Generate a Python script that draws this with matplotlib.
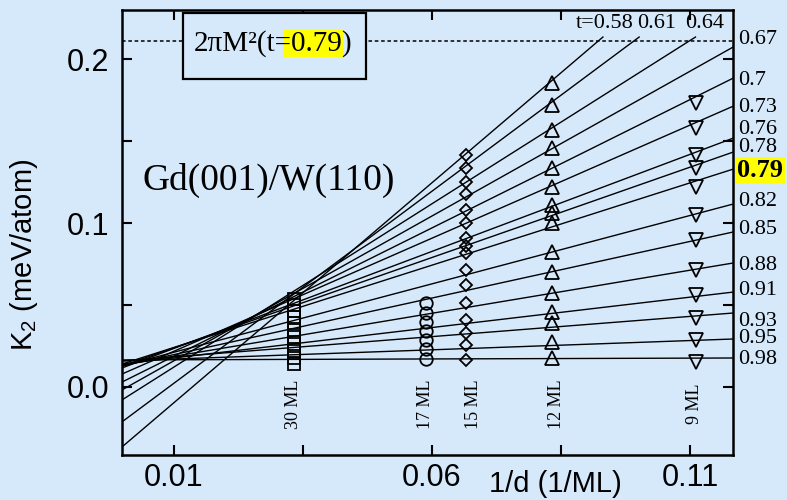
import numpy as np
import matplotlib.pyplot as plt
from matplotlib.patches import Rectangle
from matplotlib.ticker import FixedLocator, MultipleLocator, FormatStrFormatter
from matplotlib.transforms import blended_transform_factory
from matplotlib.font_manager import FontProperties

plt.rcParams['font.family'] = ['Liberation Sans', 'DejaVu Sans']

# reduced temperature t = T/Tc for each fitted line
t_values = [0.58, 0.61, 0.64, 0.67, 0.70, 0.73, 0.76, 0.78, 0.79,
            0.82, 0.85, 0.88, 0.91, 0.93, 0.95, 0.98]
# K2 = intercept + slope * (1/d)
k2_intercept = [-0.0366, -0.0213, -0.0079, -0.0018, 0.0030, 0.0079, 0.0116, 0.0128,
                0.0140, 0.0128, 0.0128, 0.0134, 0.0140, 0.0159, 0.0159, 0.0165]
k2_slope = [2.686, 2.345, 1.994, 1.768, 1.567, 1.381, 1.185, 1.103,
            1.005, 0.835, 0.691, 0.526, 0.371, 0.247, 0.113, 0.010]

# film thicknesses and measured K2 points
thickness_ml = [30, 17, 15, 12, 9]
k2_30ml = [0.0537, 0.0500, 0.0463, 0.0427, 0.0390, 0.0348, 0.0305,
           0.0262, 0.0220, 0.0177, 0.0140]
k2_17ml = [0.0512, 0.0451, 0.0396, 0.0341, 0.0287, 0.0232, 0.0171]
k2_15ml = [0.1415, 0.1335, 0.1250, 0.1177, 0.1079, 0.1000, 0.0909, 0.0860,
           0.0817, 0.0713, 0.0622, 0.0512, 0.0409, 0.0329, 0.0256, 0.0165]
k2_12ml = [0.1854, 0.1720, 0.1567, 0.1457, 0.1335, 0.1220, 0.1110, 0.1061,
           0.1000, 0.0823, 0.0701, 0.0573, 0.0457, 0.0390, 0.0274, 0.0177]
k2_9ml = [0.1732, 0.1579, 0.1415, 0.1335, 0.1220, 0.1049, 0.0896,
          0.0713, 0.0561, 0.0421, 0.0287, 0.0152]

# shape anisotropy 2*pi*M^2 at t = 0.79
shape_k2 = 0.211

top_labels = ['t=0.58', '0.61', '0.64']
right_labels = ['0.67', '0.7', '0.73', '0.76', '0.78', '0.79', '0.82',
                '0.85', '0.88', '0.91', '0.93', '0.95', '0.98']
column_labels = ['30 ML', '17 ML', '15 ML', '12 ML', '9 ML']

# label placement
top_label_x = [0.0935, 0.1036, 0.1129]
top_label_y = 0.222
right_label_y = [0.2122, 0.1872, 0.1707, 0.1573, 0.1463, 0.1323, 0.1134,
                 0.0963, 0.0744, 0.0591, 0.0402, 0.0293, 0.0165]
column_label_x = [0.0333, 0.0587, 0.0681, 0.0842, 0.1108]
column_label_y = -0.0105

bg = '#d6e9fb'
x_max = 0.1183
line_cap = 0.2135

fig = plt.figure(figsize=(7.87, 5.0), dpi=100, facecolor=bg)
ax = fig.add_axes([0.155, 0.09, 0.7764, 0.89])
ax.set_facecolor(bg)
ax.set_xlim(0, x_max)
ax.set_ylim(-0.0415, 0.230)

# fitted lines
for a, b in zip(k2_intercept, k2_slope):
    x_end = x_max
    if a + b * x_max > line_cap:
        x_end = (line_cap - a) / b
    xs = np.array([0.0, x_end])
    ax.plot(xs, a + b * xs, color='black', lw=1.0, zorder=2)

# data points for each thickness
series = [(k2_30ml, 's', 8), (k2_17ml, 'o', 9), (k2_15ml, 'D', 6.5),
          (k2_12ml, '^', 10), (k2_9ml, 'v', 10)]
for d, (vals, marker, ms) in zip(thickness_ml, series):
    ax.plot(np.full(len(vals), 1.0 / d), vals, linestyle='none', marker=marker,
            ms=ms, mfc='none', mec='black', mew=1.3, zorder=4)

# dotted shape-anisotropy level with its framed label
ax.axhline(shape_k2, color='#222222', lw=1.3, ls=(0, (2, 1.5)), zorder=1)
ax.add_patch(Rectangle((0.0998, 0.845), 0.2995, 0.1483, transform=ax.transAxes,
                       facecolor=bg, edgecolor='black', lw=1.6, zorder=5))
box_font = FontProperties(family='Liberation Serif', size=21)
box_txt = ax.text(0.247, 0.9236, '2πM²(t=0.79)', fontproperties=box_font,
                  transform=ax.transAxes, ha='center', va='center', zorder=7)

ax.text(0.034, 0.618, 'Gd(001)/W(110)', transform=ax.transAxes,
        family='Liberation Serif', fontsize=27, ha='left', va='center')

serif = dict(family='Liberation Serif', fontsize=16)
for x, s in zip(top_label_x, top_labels):
    ax.text(x, top_label_y, s, ha='center', va='center', **serif)

right_tr = blended_transform_factory(ax.transAxes, ax.transData)
for y, s in zip(right_label_y, right_labels):
    if s == '0.79':
        ax.text(1.006, y, s, transform=right_tr, ha='left', va='center',
                family='Liberation Serif', fontsize=19, fontweight='bold',
                bbox=dict(facecolor='#ffff00', edgecolor='none', pad=1.5),
                clip_on=False)
    else:
        ax.text(1.008, y, s, transform=right_tr, ha='left', va='center',
                clip_on=False, **serif)

for x, s in zip(column_label_x, column_labels):
    ax.text(x, column_label_y, s, rotation=90, ha='center', va='center',
            family='Liberation Serif', fontsize=13)

# axes styling
ax.xaxis.set_major_locator(FixedLocator([0.01, 0.06, 0.11]))
ax.xaxis.set_minor_locator(FixedLocator([0.035, 0.085]))
ax.xaxis.set_major_formatter(FormatStrFormatter('%.2f'))
ax.yaxis.set_major_locator(MultipleLocator(0.1))
ax.yaxis.set_minor_locator(MultipleLocator(0.05))
ax.yaxis.set_major_formatter(FormatStrFormatter('%.1f'))
ax.tick_params(which='both', direction='in', length=7, width=1.5,
               top=True, right=True)
ax.tick_params(axis='x', labelsize=22, pad=6)
ax.tick_params(axis='y', labelsize=22, pad=9)
for sp in ax.spines.values():
    sp.set_linewidth(1.8)

ax.set_xlabel('1/d (1/ML)', fontsize=21)
ax.xaxis.set_label_coords(0.71, -0.034)
ax.set_ylabel(r'$\mathregular{K_2}$ (meV/atom)', fontsize=21)
ax.yaxis.set_label_coords(-0.134, 0.45)

# yellow highlight behind "0.79" in the framed label
fig.canvas.draw()
renderer = fig.canvas.get_renderer()
ext = box_txt.get_window_extent(renderer)
w_pre = renderer.get_text_width_height_descent('2πM²(t', box_font, ismath=False)[0]
w_eq = renderer.get_text_width_height_descent('=', box_font, ismath=False)[0]
w_num = renderer.get_text_width_height_descent('2πM²(t=0.79', box_font, ismath=False)[0]
x0 = ext.x0 + w_pre + 0.45 * w_eq
x1 = ext.x0 + w_num + 2
inv = ax.transAxes.inverted()
(ax0, ay0), (ax1, ay1) = inv.transform([(x0, 500 - 57), (x1, 500 - 30)])
ax.add_patch(Rectangle((ax0, ay0), ax1 - ax0, ay1 - ay0, transform=ax.transAxes,
                       facecolor='#ffff00', edgecolor='none', zorder=6))

fig.savefig('out.png', dpi=100, facecolor=bg)
